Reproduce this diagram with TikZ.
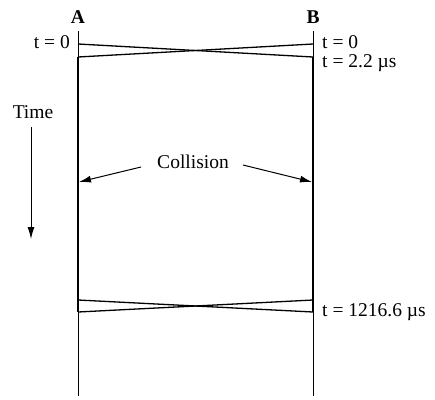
\documentclass[tikz,border=0pt]{standalone}
\usepackage{fontspec}
\setmainfont{Liberation Serif}
\usetikzlibrary{arrows.meta}
\begin{document}
\begin{tikzpicture}[x=1pt,y=-1pt,
  thinline/.style={line width=0.9pt},
  thickline/.style={line width=2pt},
  crossline/.style={line width=1.3pt},
  lbl/.style={font=\fontsize{19.5}{22}\selectfont, inner sep=0pt},
  arr/.style={line width=1pt,-{Latex[length=12pt,width=7pt]}}]
\useasboundingbox (0,0) rectangle (435,399);
% coordinates
\coordinate (Atop) at (78,31);
\coordinate (Btop) at (313,31);
\coordinate (Abot) at (78,396);
\coordinate (Bbot) at (313,396);
\coordinate (A1) at (78,44);
\coordinate (A2) at (78,57);
\coordinate (B1) at (313,44);
\coordinate (B2) at (313,57);
\coordinate (A3) at (78,300);
\coordinate (A4) at (78,312);
\coordinate (B3) at (313,300);
\coordinate (B4) at (313,312);
\coordinate (Ahit) at (79,182);
\coordinate (Bhit) at (312,182);
% stations
\node[lbl, font=\fontsize{19.5}{22}\selectfont\bfseries, anchor=south] (A) at (78,24) {A};
\node[lbl, font=\fontsize{19.5}{22}\selectfont\bfseries, anchor=south] (B) at (313,24) {B};
\draw[thinline] (Atop) -- (A2);
\draw[thinline] (Btop) -- (B2);
\draw[thickline] (A2) -- (A4);
\draw[thickline] (B2) -- (B4);
\draw[thinline] (A4) -- (Abot);
\draw[thinline] (B4) -- (Bbot);
% frames
\draw[crossline] (A1) -- (B2);
\draw[crossline] (A2) -- (B1);
\draw[crossline] (A3) -- (B4);
\draw[crossline] (A4) -- (B3);
% labels
\node[lbl, anchor=east] (t0a) at (70,42.5) {t = 0};
\node[lbl, anchor=west] (t0b) at (322,42.5) {t = 0};
\node[lbl, anchor=west] (t22) at (322,63.5) {t = 2.2 µs};
\node[lbl, anchor=west] (t12) at (322,312) {t = 1216.6 µs};
\node[lbl] (time) at (33,112) {Time};
\coordinate (tstart) at (31,127);
\coordinate (tend) at (31,239);
\draw[arr] (tstart) -- (tend);
\node[lbl] (coll) at (193,162) {Collision};
\draw[arr] (141,167) -- (Ahit);
\draw[arr] (243,165) -- (Bhit);
\end{tikzpicture}
\end{document}
